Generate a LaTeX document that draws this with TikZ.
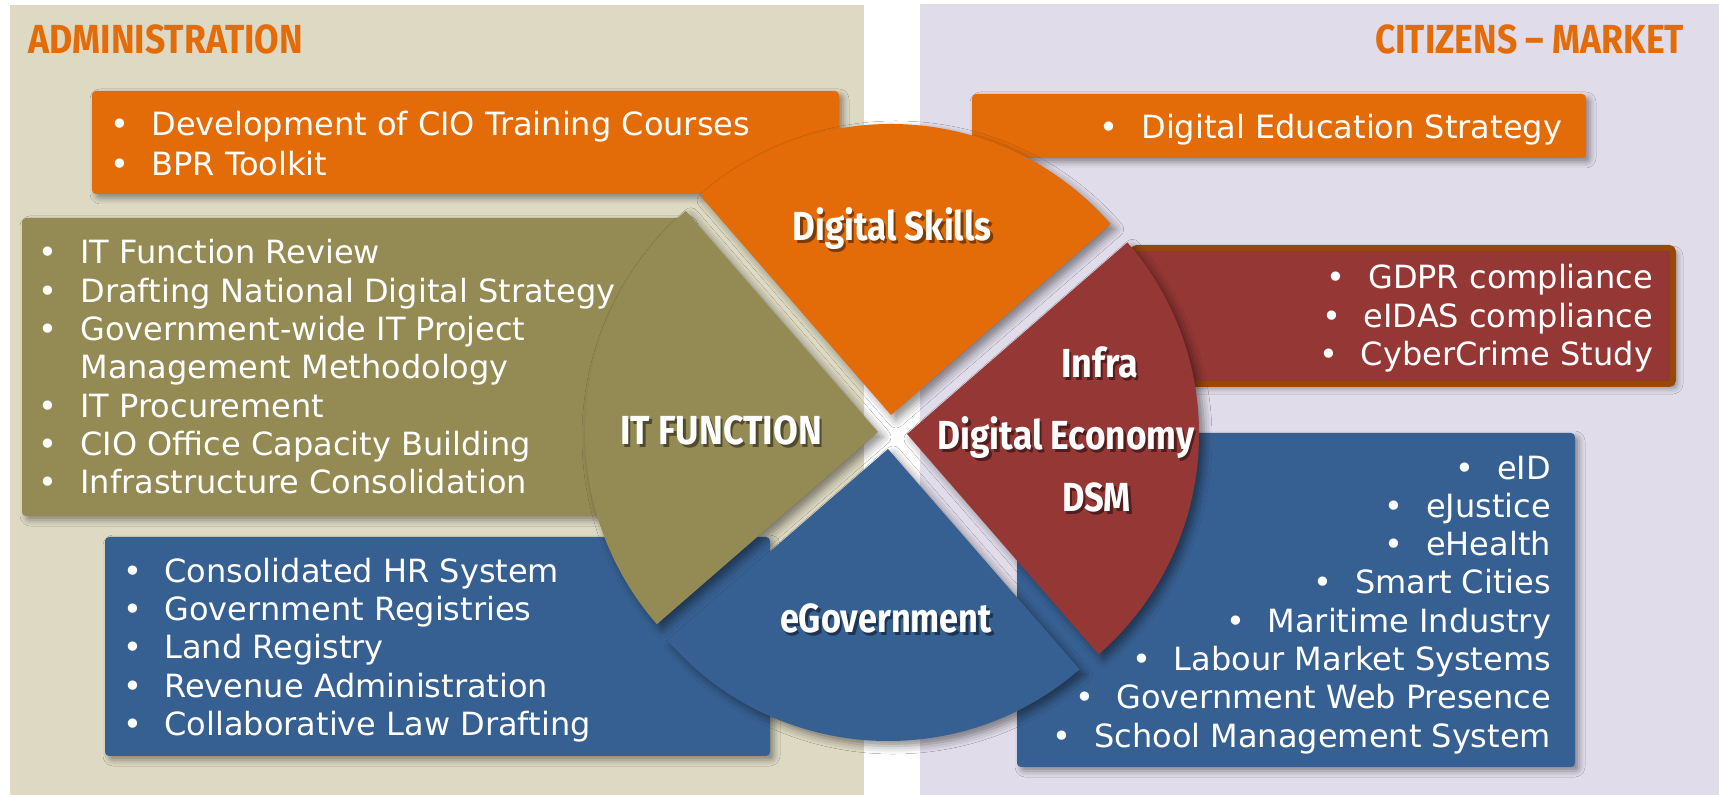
\documentclass[tikz,border=0pt]{standalone}
\usepackage{fontspec}
\usepackage{graphicx}
\setmainfont{DejaVu Sans}
\newfontfamily\headfont{Fira Sans}
\usetikzlibrary{shadows.blur}
\definecolor{corange}{HTML}{E36C09}
\definecolor{colive}{HTML}{948A54}
\definecolor{cblue}{HTML}{376092}
\definecolor{cred}{HTML}{953735}
\definecolor{cbrown}{HTML}{984807}
\definecolor{cbeige}{HTML}{DDD9C3}
\definecolor{clav}{HTML}{E0DCEA}
\newcommand\bul{•\hspace{11.3pt}}
\newcommand\Lline[4]{\node[btext,anchor=base west] (#1) at (#2,#3) {#4};}
\newcommand\Rline[4]{\node[btext,anchor=base east] (#1) at (#2,#3) {#4};}
\newcommand\seclabel[5]{%
  \node[lab,anchor=base,text=black,text opacity=.45,xshift=1.3pt,yshift=-1.3pt] (#1-s) at (#2,#3) {\resizebox{#4}{\height}{#5}};
  \node[lab,anchor=base,text=white] (#1) at (#2,#3) {\resizebox{#4}{\height}{#5}};}
\begin{document}
\begin{tikzpicture}[x=0.5pt,y=-0.5pt,
  boxstyle/.style={rectangle,rounded corners=2pt,inner sep=0pt,outer sep=0pt,draw=none,
    blur shadow={shadow xshift=2pt,shadow yshift=-2pt,shadow blur radius=3pt,shadow opacity=40}},
  secstyle/.style={blur shadow={shadow xshift=2.5pt,shadow yshift=-2.5pt,shadow blur radius=4pt,shadow opacity=45}},
  btext/.style={inner sep=0pt,outer sep=0pt,text=white,font=\fontsize{16}{19.2}\selectfont},
  lab/.style={inner sep=0pt,outer sep=0pt,font=\headfont\bfseries\fontsize{20.3}{24}\selectfont},
  title/.style={inner sep=0pt,outer sep=0pt,text=corange,font=\headfont\bfseries\fontsize{20.3}{24}\selectfont}]
\useasboundingbox (0,0) rectangle (1719,795);
\fill[white] (0,0) rectangle (1719,795);
\fill[cbeige] (10,5) rectangle (864,795);
\fill[clav] (920,4) rectangle (1719,795);

% titles
\node[title,anchor=base west] (admin) at (29,54) {\resizebox{137pt}{\height}{ADMINISTRATION}};
\node[title,anchor=base east] (citizens) at (1684,54) {\resizebox{154.5pt}{\height}{CITIZENS – MARKET}};

% boxes
\node[boxstyle,fill=corange,minimum width=373.5pt,minimum height=51.5pt] (boxTL) at (465.5,142.5) {};
\node[boxstyle,fill=colive,minimum width=333pt,minimum height=149pt] (boxIT) at (355,367) {};
\node[boxstyle,fill=cblue,minimum width=332.5pt,minimum height=109.5pt] (boxEG) at (437.5,646.5) {};
\node[boxstyle,fill=corange,minimum width=307pt,minimum height=32pt] (boxTR) at (1279,126) {};
\node[boxstyle,fill=cred,draw=cbrown,line width=3pt,minimum width=270pt,minimum height=68pt] (boxRD) at (1403,316) {};
\node[boxstyle,fill=cblue,minimum width=279pt,minimum height=167pt] (boxBR) at (1296,600) {};

% sectors
\fill[cblue,secstyle] (888,449) -- ++(49:292) arc[start angle=49,end angle=139,radius=292] -- cycle;
\fill[cred,secstyle] (907,434) -- ++(-41:292) arc[start angle=-41,end angle=49,radius=292] -- cycle;
\fill[colive,secstyle] (878,432) -- ++(139:293) arc[start angle=139,end angle=229,radius=293] -- cycle;
\fill[corange,secstyle] (891,415) -- ++(229:291) arc[start angle=229,end angle=319,radius=291] -- cycle;

% sector labels
\seclabel{skills}{892}{241}{99.5pt}{Digital Skills}
\seclabel{itf}{721}{445}{101pt}{IT FUNCTION}
\seclabel{infra}{1099.5}{378}{38.5pt}{Infra}
\seclabel{deco}{1066}{450}{128.5pt}{Digital Economy}
\seclabel{dsm}{1096.5}{512}{34.5pt}{DSM}
\seclabel{egov}{886}{633}{106pt}{eGovernment}

% bullet texts
\Lline{t1}{110}{136}{\bul Development of CIO Training Courses}
\Lline{t2}{110}{176}{\bul BPR Toolkit}

\Lline{f1}{39}{264}{\bul IT Function Review}
\Lline{f2}{39}{303}{\bul Drafting National Digital Strategy}
\Lline{f3}{39}{341}{\bul Government-wide IT Project}
\Lline{f4}{39}{379}{\hphantom{\bul}Management Methodology}
\Lline{f5}{39}{418}{\bul IT Procurement}
\Lline{f6}{39}{456}{\bul CIO Office Capacity Building}
\Lline{f7}{39}{494}{\bul Infrastructure Consolidation}

\Lline{g1}{123}{583}{\bul Consolidated HR System}
\Lline{g2}{123}{621}{\bul Government Registries}
\Lline{g3}{123}{659}{\bul Land Registry}
\Lline{g4}{123}{698}{\bul Revenue Administration}
\Lline{g5}{123}{736}{\bul Collaborative Law Drafting}

\Rline{r0}{1562}{139}{\bul Digital Education Strategy}

\Rline{r1}{1653}{289}{\bul GDPR compliance}
\Rline{r2}{1653}{328}{\bul eIDAS compliance}
\Rline{r3}{1653}{366}{\bul CyberCrime Study}

\Rline{b1}{1551}{480}{\bul eID}
\Rline{b2}{1551}{518}{\bul eJustice}
\Rline{b3}{1551}{556}{\bul eHealth}
\Rline{b4}{1551}{594}{\bul Smart Cities}
\Rline{b5}{1551}{633}{\bul Maritime Industry}
\Rline{b6}{1551}{671}{\bul Labour Market Systems}
\Rline{b7}{1551}{709}{\bul Government Web Presence}
\Rline{b8}{1551}{748}{\bul School Management System}
\end{tikzpicture}
\end{document}
